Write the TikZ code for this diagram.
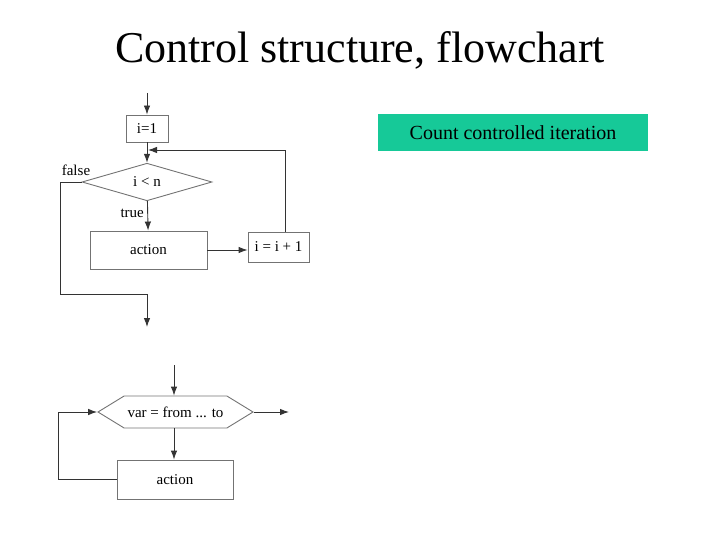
\documentclass[tikz,border=0pt]{standalone}
\usepackage{fontspec}
\setmainfont{Liberation Serif}
\usetikzlibrary{shapes.geometric,shapes.symbols,arrows.meta}
\definecolor{tealgreen}{RGB}{22,201,152}
\tikzset{
	flowline/.style={line width=0.9pt, draw=black!80},
	flowarrow/.style={flowline, -{Latex[length=9pt,width=6.5pt]}},
	stepbox/.style={draw=black!55, line width=0.9pt, font=\fontsize{15}{17}\selectfont, inner sep=0pt},
	flowlabel/.style={font=\fontsize{15}{17}\selectfont, text=black},
}

\begin{document}
\begin{tikzpicture}[x=1pt, y=-1pt]
		%%%%% START %%%%%
		\useasboundingbox (0, 0) rectangle (720, 540);
		
		\node[font=\fontsize{44}{50}\selectfont] (title) at (360, 50) {Control structure, flowchart};
		\node[fill=tealgreen, minimum width=270, minimum height=37, inner sep=0pt, font=\fontsize{20}{24}\selectfont] (note) at (513, 132.5) {Count controlled iteration};
		
		%% while form
		\coordinate (start) at (147, 93);
		\node[stepbox, minimum width=42, minimum height=27] (init) at (147, 128.5) {i=1};
		\coordinate (merge) at (147, 150);
		\node[stepbox, diamond, minimum width=130, minimum height=35] (test) at (147, 182) {i < n};
		\node[stepbox, minimum width=117, minimum height=38] (body) at (148.5, 250) {action};
		\node[stepbox, minimum width=61, minimum height=30] (incr) at (278.5, 247) {i = i + 1};
		\coordinate (exit) at (147, 327);
		
		\draw[flowarrow] (start) -- (init);
		\draw[flowarrow] (init) -- (test);
		\draw[flowarrow] (test) -- node[pos=0.4, left, flowlabel] {true} (body);
		\draw[flowarrow] (body.east) -- (body.east -| incr.west);
		\draw[flowarrow] (incr.north -| 285, 0) |- ([xshift=1pt]merge);
		\draw[flowarrow] (test.west) -- (60, 182) -- (60, 294) -| (exit);
		\node[flowlabel] (falselbl) at (76, 170) {false};
		
		%% for form
		\coordinate (start2) at (174, 365);
		\node[stepbox, signal, signal to=east and west, signal pointer angle=63, minimum width=155, minimum height=32] (loop) at (175.5, 412) {var = from ... to};
		\node[stepbox, minimum width=116, minimum height=39] (body2) at (175, 479.5) {action};
		\coordinate (exit2) at (289, 412);
		
		\draw[flowarrow] (start2) -- (loop.north -| start2);
		\draw[flowarrow] (loop.east) -- (exit2);
		\draw[flowarrow] (loop.south -| start2) -- (body2.north -| start2);
		\draw[flowarrow] (body2.west) -- (58, 479.5) |- (loop.west);
		
		%%%%% END %%%%%
	\end{tikzpicture}
\end{document}
